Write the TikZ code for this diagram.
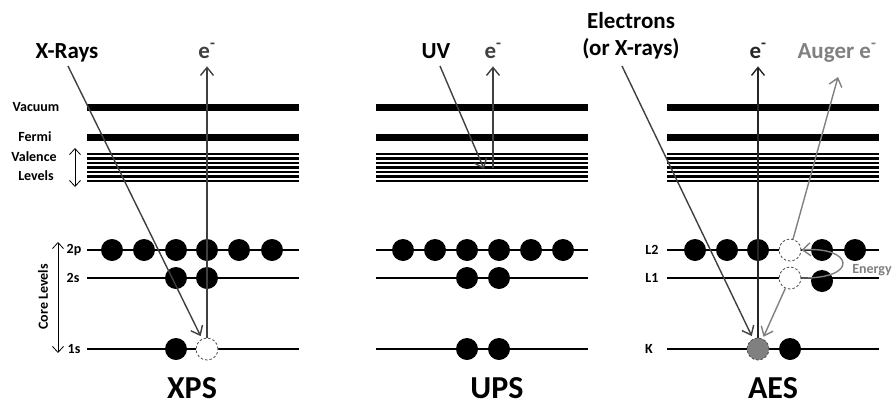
\documentclass[tikz,border=0pt]{standalone}
\usepackage{fontspec}
\setmainfont{Carlito}
\usetikzlibrary{arrows.meta}

\begin{document}
\begin{tikzpicture}[x=1pt, y=-1pt,
    bar/.style={line width=7pt},
    valence/.style={line width=2.4pt},
    level/.style={line width=2.7pt},
    elec/.style={circle, fill=black, minimum size=22pt, inner sep=0pt},
    hole/.style={circle, draw=black!70, fill=white, line width=0.8pt, dash pattern=on 2.5pt off 2pt, minimum size=22pt, inner sep=0pt},
    ray/.style={draw=black!75, line width=1.4pt, -{Straight Barb[length=8pt, width=13pt]}},
    auger/.style={draw=black!50, line width=1.4pt, -{Straight Barb[length=8pt, width=13pt]}},
    span/.style={line width=0.8pt, {Straight Barb[length=6pt, width=11pt]}-{Straight Barb[length=6pt, width=11pt]}},
    toplabel/.style={font=\fontsize{23}{27}\selectfont\bfseries, inner sep=2pt},
    small/.style={font=\fontsize{14}{16}\selectfont\bfseries, inner sep=1pt},
    title/.style={font=\fontsize{32}{38}\selectfont\bfseries, inner sep=0pt}]
  \useasboundingbox (0,0) rectangle (895,405);
  % Energy levels, same in the three panels
  \foreach \dx in {0,289,580} {
    \draw[bar] (87+\dx,107.5) -- (299+\dx,107.5);
    \draw[bar] (87+\dx,137.5) -- (299+\dx,137.5);
    \foreach \i in {0,...,6}
      \draw[valence] (87+\dx,154+4.5*\i) -- (299+\dx,154+4.5*\i);
    \draw[level] (87+\dx,250) -- (299+\dx,250);
    \draw[level] (87+\dx,278) -- (299+\dx,278);
    \draw[level] (87+\dx,349) -- (299+\dx,349);
  }
  % Level names
  \node[small] (vac) at (36,107) {Vacuum};
  \node[small] (fermi) at (35,137) {Fermi};
  \node[small] (val) at (34,157) {Valence};
  \node[small] (lev) at (36,176) {Levels};
  \draw[span] (75,148) -- (75,187);
  \node[small, rotate=90] (core) at (43,297) {Core Levels};
  \draw[span] (58,242) -- (58,353);
  \node[small] (l2p) at (74,250) {2p};
  \node[small] (l2s) at (73,278) {2s};
  \node[small] (l1s) at (74,349) {1s};
  \node[small] (lL2) at (652,250) {L2};
  \node[small] (lL1) at (652,278) {L1};
  \node[small] (lK) at (649,349) {K};
  % XPS electrons
  \foreach \x [count=\i] in {112,144,176,207,239,272}
    \node[elec] (xps2p\i) at (\x,250) {};
  \node[elec] (xps2s1) at (176,278) {};
  \node[elec] (xps2s2) at (207,278) {};
  \node[elec] (xps1s1) at (176,349) {};
  \node[hole] (xps1s2) at (207,349) {};
  % UPS electrons
  \foreach \x [count=\i] in {403,435,467,499,531,563}
    \node[elec] (ups2p\i) at (\x,250) {};
  \node[elec] (ups2s1) at (467,278) {};
  \node[elec] (ups2s2) at (499,278) {};
  \node[elec] (ups1s1) at (467,349) {};
  \node[elec] (ups1s2) at (499,349) {};
  % AES electrons
  \node[elec] (aesL2a) at (695,250) {};
  \node[elec] (aesL2b) at (727,250) {};
  \node[elec] (aesL2c) at (758,250) {};
  \node[hole] (aesL2h) at (790,250) {};
  \node[elec] (aesL2d) at (822,250) {};
  \node[elec] (aesL2e) at (855,250) {};
  \node[hole] (aesL1h) at (790,278) {};
  \node[elec] (aesL1a) at (822,281) {};
  \node[hole, fill=black!50] (aesKh) at (758,349) {};
  \node[elec] (aesKa) at (790,349) {};
  % XPS beams
  \node[toplabel, anchor=base] (xray) at (67,58) {X-Rays};
  \node[toplabel, anchor=base, text=black!75] (xpse) at (207,58) {e\textsuperscript{-}};
  \coordinate (xrayin) at (68,66);
  \draw[ray, shorten >=3pt] (xrayin) -- (xps1s2);
  \draw[ray, shorten >=6pt] (xps1s2.north) -- (xps1s2.north |- xpse.south);
  % UPS beams
  \node[toplabel, anchor=base] (uv) at (436,58) {UV};
  \node[toplabel, anchor=base, text=black!75] (upse) at (493,58) {e\textsuperscript{-}};
  \coordinate (uvin) at (440,66);
  \coordinate (uvhit) at (484,169);
  \coordinate (upsout) at (493,168);
  \draw[ray] (uvin) -- (uvhit);
  \draw[ray, shorten >=6pt] (upsout) -- (upsout |- upse.south);
  % AES beams
  \node[toplabel, align=center] (ebeamlabel) at (631,36) {Electrons\\(or X-rays)};
  \node[toplabel, anchor=base, text=black!85] (aese) at (758,58) {e\textsuperscript{-}};
  \node[toplabel, anchor=base, text=black!50] (augere) at (837,58) {Auger e\textsuperscript{-}};
  \coordinate (ebeam) at (622,66);
  \coordinate (augtip) at (838,77);
  \draw[ray, shorten >=3pt] (ebeam) -- (aesKh);
  \draw[ray, draw=black!85, shorten >=6pt] (aesKh.north) -- (aesKh.north |- aese.south);
  \draw[auger] (aesL2h) -- (augtip);
  \draw[auger, shorten >=2pt] (aesL1h) -- (aesKh);
  \draw[auger] (aesL1h.east) .. controls (860,279) and (853,246) .. (aesL2h.east);
  \node[small, text=black!50] (energy) at (872,270) {Energy};
  % Method names
  \node[title] (xps) at (192,388) {XPS};
  \node[title] (ups) at (497,388) {UPS};
  \node[title] (aes) at (773,388) {AES};
\end{tikzpicture}
\end{document}
